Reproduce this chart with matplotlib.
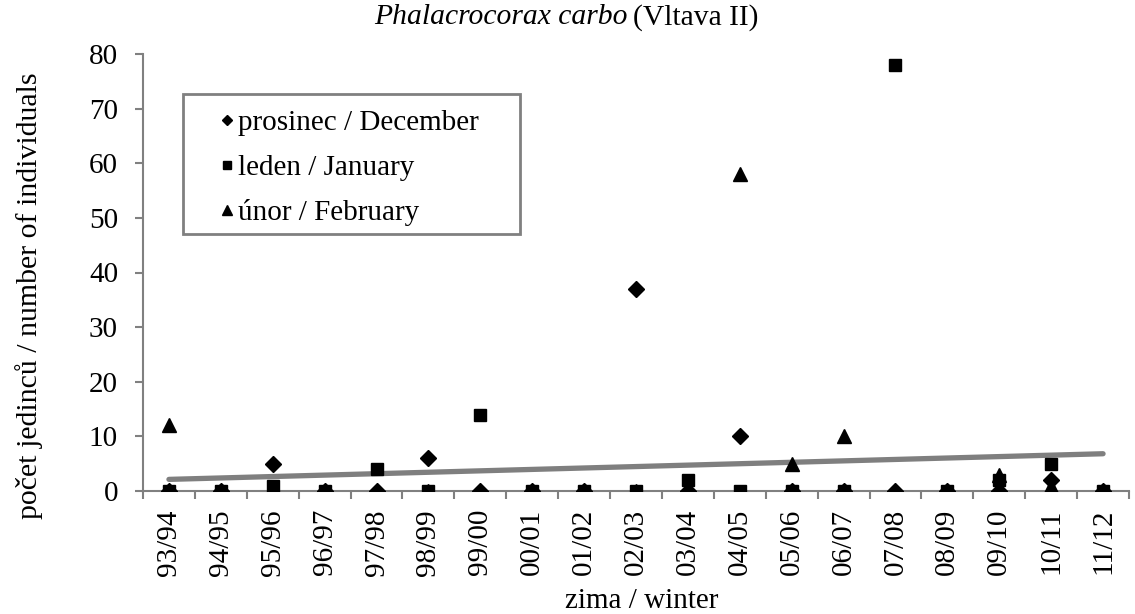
import numpy as np
import matplotlib.pyplot as plt
from matplotlib.patches import Rectangle

plt.rcParams['font.family'] = ['Liberation Serif', 'DejaVu Serif']

winters = ['93/94', '94/95', '95/96', '96/97', '97/98', '98/99', '99/00', '00/01',
           '01/02', '02/03', '03/04', '04/05', '05/06', '06/07', '07/08', '08/09',
           '09/10', '10/11', '11/12']
december = [0, 0, 5, 0, 0, 6, 0, 0, 0, 37, 0, 10, 0, 0, 0, 0, 0, 2, 0]
january = [0, 0, 1, 0, 4, 0, 14, 0, 0, 0, 2, 0, 0, 0, 78, 0, 2, 5, 0]
february = [12, 0, 0, 0, 0, 0, 0, 0, 0, 0, 0, 58, 5, 10, 0, 0, 3, 1, 0]

x = np.arange(len(winters))
W, H = 1135, 614

fig = plt.figure(figsize=(W / 100, H / 100), dpi=100)
ax = fig.add_axes([143 / W, 1 - 491 / H, 986 / W, 437 / H])

ax.plot(x, december, 'D', color='black', ms=8, label='prosinec / December', zorder=3)
ax.plot(x, january, 's', color='black', ms=9, label='leden / January', zorder=3)
ax.plot(x, february, '^', color='black', ms=9.5, label='únor / February', zorder=3)

# linear trend over all three months
xs = np.concatenate([x, x, x])
ys = np.concatenate([december, january, february])
k, q = np.polyfit(xs, ys, 1)
ax.plot([x[0], x[-1]], [k * x[0] + q, k * x[-1] + q], color='#7f7f7f', lw=3.8,
        solid_capstyle='round', zorder=2)

ax.set_xlim(-0.5, len(winters) - 0.5)
ax.set_ylim(0, 80)
ax.set_yticks(range(0, 81, 10))
ax.tick_params(axis='y', labelsize=21, color='#808080', width=1.5, length=6,
               direction='out', pad=12)
ax.set_xticks(x)
ax.set_xticklabels(winters, rotation=90, fontsize=21)
ax.set_xticks(np.arange(-0.5, len(winters), 1), minor=True)
ax.tick_params(axis='x', which='major', length=0, pad=13)
ax.tick_params(axis='x', which='minor', length=6, color='#808080', width=1.5, direction='out')

for s in ['top', 'right']:
    ax.spines[s].set_visible(False)
for s in ['left', 'bottom']:
    ax.spines[s].set_color('#808080')
    ax.spines[s].set_linewidth(1.5)

fig.text(642 / W, 1 - 608 / H, 'zima / winter', fontsize=21, ha='center', va='baseline')
fig.text(29 / W, 1 - 296 / H, 'počet jedinců / number of individuals', fontsize=21.5,
         rotation=90, ha='center', va='center')

fig.text(628 / W, 1 - 4 / H, 'Phalacrocorax carbo', style='italic', fontsize=21.3,
         ha='right', va='top')
fig.text(633 / W, 1 - 4 / H, '(Vltava II)', fontsize=21.3, ha='left', va='top')

# legend without its own frame, box drawn separately to get the wide side padding
leg = ax.legend(loc='center left', bbox_to_anchor=(221 / W, 1 - 168 / H),
                bbox_transform=fig.transFigure, fontsize=21, handlelength=0.4,
                handletextpad=0.2, markerscale=0.7, frameon=False, borderpad=0,
                labelspacing=0.62, borderaxespad=0)
fig.patches.append(Rectangle((183 / W, 1 - 234 / H), 337 / W, 140 / H,
                             transform=fig.transFigure, fill=False,
                             edgecolor='#808080', lw=2, zorder=5))

fig.savefig('out.png', dpi=100)
